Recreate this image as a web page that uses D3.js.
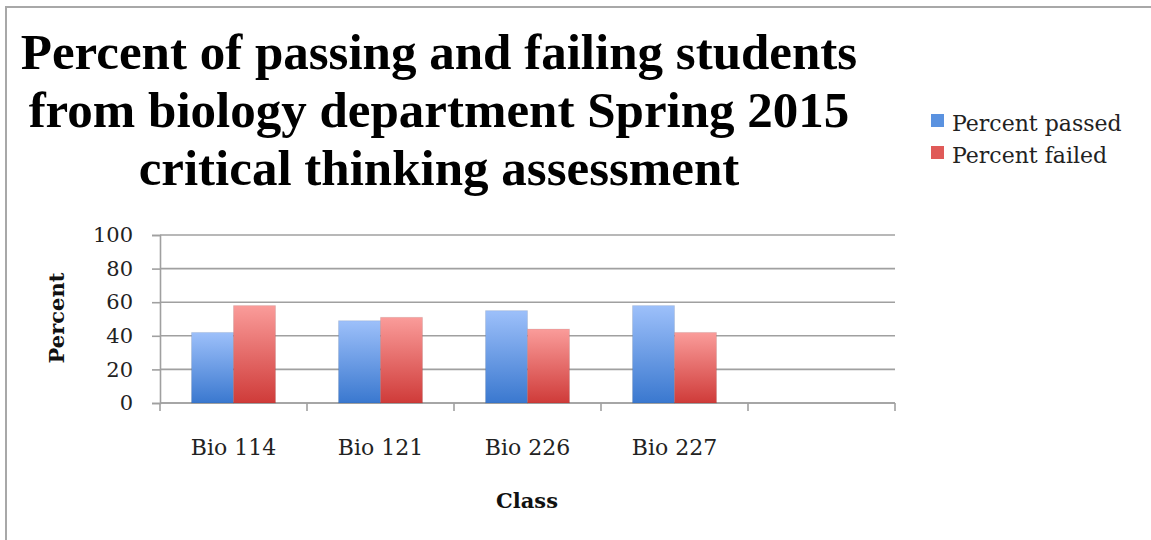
<!DOCTYPE html>
<html>
<head>
<meta charset="utf-8">
<script src="https://cdn.jsdelivr.net/npm/d3@7"></script>
<style>
  body { margin: 0; background: #fff; }
  svg { display: block; }
</style>
</head>
<body>
<div class="chart"></div>
<script>
var classes = ["Bio 114", "Bio 121", "Bio 226", "Bio 227"];
var percentPassed = [42, 49, 55, 58];
var percentFailed = [58, 51, 44, 42];
var seriesNames = ["Percent passed", "Percent failed"];
var yTicks = [0, 20, 40, 60, 80, 100];
var titleLines = ["Percent of passing and failing students",
                  "from biology department Spring 2015",
                  "critical thinking assessment"];

var w = 1151;
var h = 540;

var svg = d3.select(".chart")
    .append("svg")
    .attr("width", w)
    .attr("height", h);

var defs = svg.append("defs");
function grad(id, c1, c2) {
    var g = defs.append("linearGradient").attr("id", id)
        .attr("x1", 0).attr("y1", 0).attr("x2", 0).attr("y2", 1);
    g.append("stop").attr("offset", "0%").attr("stop-color", c1);
    g.append("stop").attr("offset", "100%").attr("stop-color", c2);
}
grad("gBlue", "#9dc0fa", "#3a78cf");
grad("gRed", "#fa9c9a", "#cf3b39");
var fills = ["url(#gBlue)", "url(#gRed)"];
var swatch = ["#5a92e0", "#e05a58"];

// frame
svg.append("path")
    .attr("d", "M6,540 V7 H1151")
    .attr("fill", "none")
    .attr("stroke", "#a8a8a8")
    .attr("stroke-width", 2);

// title
svg.append("g").selectAll("text")
    .data(titleLines)
    .enter().append("text")
    .attr("x", 439)
    .attr("y", function (d, i) { return 69 + i * 58; })
    .attr("text-anchor", "middle")
    .attr("font-family", "Liberation Serif, serif")
    .attr("font-weight", "bold")
    .attr("font-size", 51)
    .attr("fill", "#000")
    .text(function (d) { return d; });

var pLeft = 160, pRight = 895, pTop = 235, pBottom = 403;

var x0 = d3.scaleBand()
    .domain(classes.concat([""]))
    .range([pLeft, pRight])
    .paddingInner(0.4286)
    .paddingOuter(0.2143);
var x1 = d3.scaleBand()
    .domain(seriesNames)
    .range([0, x0.bandwidth()]);
var y = d3.scaleLinear().domain([0, 100]).range([pBottom, pTop]);

// gridlines
svg.append("g").selectAll("line")
    .data(yTicks)
    .enter().append("line")
    .attr("x1", pLeft).attr("x2", pRight)
    .attr("y1", function (d) { return y(d); })
    .attr("y2", function (d) { return y(d); })
    .attr("stroke", "#a0a0a0")
    .attr("stroke-width", 1.6);

// y axis
var yAxis = svg.append("g")
    .attr("transform", "translate(" + pLeft + ",0)")
    .call(d3.axisLeft(y).tickValues(yTicks).tickSize(8).tickPadding(19));
yAxis.selectAll("line, path").attr("stroke", "#a0a0a0").attr("stroke-width", 1.6);
yAxis.selectAll("text")
    .attr("font-family", "DejaVu Serif, serif")
    .attr("font-size", 21)
    .attr("fill", "#222");

// x axis
var step = x0.step();
var xEdges = d3.range(x0.domain().length + 1).map(function (i) { return pLeft + i * step; });
var xAxis = svg.append("g");
xAxis.append("line")
    .attr("x1", pLeft).attr("x2", pRight)
    .attr("y1", pBottom).attr("y2", pBottom)
    .attr("stroke", "#a0a0a0").attr("stroke-width", 1.6);
xAxis.selectAll(".tk")
    .data(xEdges)
    .enter().append("line")
    .attr("x1", function (d) { return d; })
    .attr("x2", function (d) { return d; })
    .attr("y1", pBottom).attr("y2", pBottom + 8)
    .attr("stroke", "#a0a0a0").attr("stroke-width", 1.6);
xAxis.selectAll("text")
    .data(classes)
    .enter().append("text")
    .attr("x", function (d) { return x0(d) + x0.bandwidth() / 2; })
    .attr("y", 455)
    .attr("text-anchor", "middle")
    .attr("font-family", "DejaVu Serif, serif")
    .attr("font-size", 22)
    .attr("fill", "#222")
    .text(function (d) { return d; });

// bars
var rows = classes.map(function (c, i) {
    return { cls: c, vals: [percentPassed[i], percentFailed[i]] };
});
var groups = svg.append("g").selectAll("g")
    .data(rows)
    .enter().append("g")
    .attr("transform", function (d) { return "translate(" + x0(d.cls) + ",0)"; });
groups.selectAll("rect")
    .data(function (d) { return d.vals.map(function (v, k) { return { k: k, v: v }; }); })
    .enter().append("rect")
    .attr("x", function (d) { return x1(seriesNames[d.k]); })
    .attr("y", function (d) { return y(d.v); })
    .attr("width", x1.bandwidth())
    .attr("height", function (d) { return pBottom - y(d.v); })
    .attr("fill", function (d) { return fills[d.k]; })
    .attr("stroke", "rgba(0,0,0,0.08)")
    .attr("stroke-width", 1);

// axis titles
svg.append("text")
    .attr("transform", "translate(64,318) rotate(-90)")
    .attr("text-anchor", "middle")
    .attr("font-family", "DejaVu Serif, serif")
    .attr("font-weight", "bold")
    .attr("font-size", 21)
    .attr("fill", "#111")
    .text("Percent");
svg.append("text")
    .attr("x", 527).attr("y", 508)
    .attr("text-anchor", "middle")
    .attr("font-family", "DejaVu Serif, serif")
    .attr("font-weight", "bold")
    .attr("font-size", 21)
    .attr("fill", "#111")
    .text("Class");

// legend
var legend = svg.append("g").selectAll("g")
    .data(seriesNames)
    .enter().append("g")
    .attr("transform", function (d, i) { return "translate(931," + (114 + i * 32) + ")"; });
legend.append("rect")
    .attr("width", 13).attr("height", 13)
    .attr("fill", function (d, i) { return swatch[i]; });
legend.append("text")
    .attr("x", 21).attr("y", 17)
    .attr("font-family", "DejaVu Serif, serif")
    .attr("font-size", 22)
    .attr("fill", "#222")
    .text(function (d) { return d; });
</script>
</body>
</html>
